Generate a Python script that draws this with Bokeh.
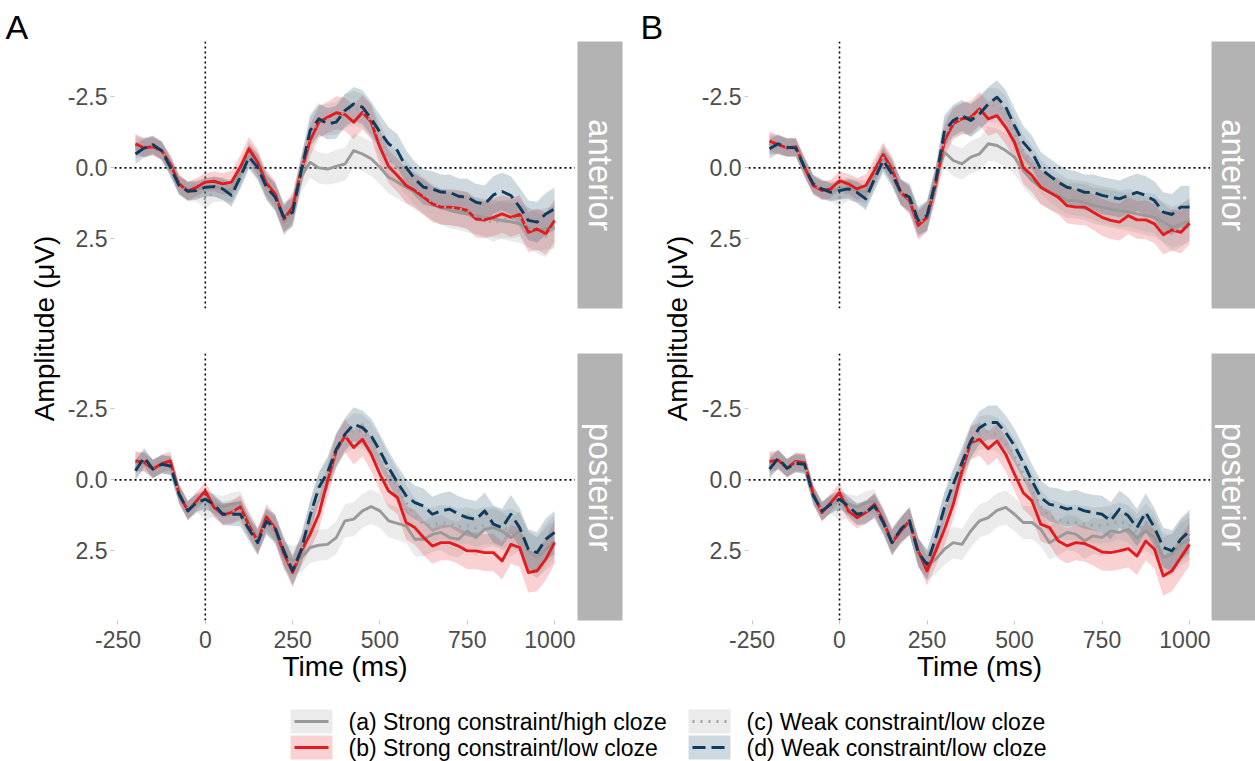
import math
from bokeh.plotting import figure
from bokeh.layouts import row, column
from bokeh.models import Range1d, Span, FixedTicker, PrintfTickFormatter
from bokeh.core.properties import value
from bokeh.embed import file_html
from bokeh.resources import INLINE

FONT = "Liberation Sans"

# ---------------- data ----------------
time_ms = list(range(-200, 1001, 25))

condition_labels = [
    "(a) Strong constraint/high cloze",
    "(b) Strong constraint/low cloze",
    "(c) Weak constraint/low cloze",
    "(d) Weak constraint/low cloze",
]
line_colors = ["#999999", "#E41A1C", "#A3A3A3", "#0C3B5E"]
ribbon_colors = ["#999999", "#E41A1C", "#999999", "#0C3B5E"]
line_dashes = ["solid", "solid", "2 6", "13 6"]

# Panel A, anterior
A_ant_a = [-0.80,-0.72,-0.78,-0.60,-0.10,0.58,0.80,0.75,0.70,0.65,0.75,0.80,0.20,-0.50,-0.10,0.60,1.00,1.90,1.50,0.30,
           -0.20,0.00,0.04,-0.05,-0.14,-0.61,-0.49,-0.32,-0.02,0.33,0.50,0.68,0.86,1.03,1.27,1.38,1.50,1.56,1.62,1.68,
           1.74,1.80,1.85,1.90,1.97,2.10,2.21,2.15,2.09]
A_ant_b = [-0.85,-0.70,-0.75,-0.61,-0.14,0.56,0.82,0.68,0.50,0.47,0.56,0.50,-0.02,-0.67,-0.20,0.54,0.92,1.80,1.38,0.09,
           -0.96,-1.61,-1.78,-1.94,-1.88,-1.61,-1.96,-1.61,-0.73,-0.05,0.27,0.62,0.80,1.03,1.27,1.38,1.38,1.42,1.50,1.80,
           1.83,1.74,1.62,1.74,1.64,2.27,2.15,2.32,1.85]
A_ant_c = [-0.70,-0.75,-0.80,-0.62,-0.05,0.60,0.85,0.85,1.10,0.85,0.80,0.90,0.25,-0.45,-0.05,0.65,1.05,1.85,1.50,0.15,
           -1.20,-1.65,-1.70,-1.75,-2.00,-2.10,-2.00,-1.65,-1.00,-0.30,0.00,0.35,0.70,0.95,1.20,1.35,1.40,1.45,1.50,1.70,
           1.80,1.95,1.80,1.80,1.75,2.10,2.30,2.40,2.00]
A_ant_d = [-0.49,-0.70,-0.82,-0.61,-0.02,0.62,0.82,0.80,0.68,0.66,0.74,0.97,0.33,-0.38,-0.02,0.68,1.03,1.74,1.56,0.09,
           -1.31,-1.73,-1.55,-1.61,-2.02,-2.25,-2.14,-1.73,-1.26,-0.85,-0.61,-0.02,0.39,0.68,0.74,0.85,0.86,1.00,1.03,1.21,
           1.27,0.95,0.83,0.97,1.38,1.85,1.91,1.62,1.44]

# Panel A, posterior
A_post_a = [-0.60,-0.65,-0.40,-0.55,-0.55,0.45,1.05,0.85,0.70,0.85,0.95,0.85,0.80,1.50,2.10,1.50,1.80,2.68,2.85,2.73,
            2.38,2.30,2.27,2.03,1.44,1.38,1.09,0.94,1.09,1.44,1.53,1.62,2.09,2.09,1.92,1.85,2.03,2.09,1.80,2.03,
            1.74,1.68,1.80,2.03,1.80,2.50,2.73,2.44,2.15]
A_post_b = [-0.67,-0.62,-0.38,-0.57,-0.67,0.50,1.09,0.74,0.39,0.97,1.21,1.15,0.95,1.60,2.16,1.30,1.70,2.60,3.26,2.50,
            1.92,1.21,0.04,-1.02,-1.55,-1.14,-1.43,-0.91,-0.20,0.39,0.62,1.50,1.68,2.03,2.33,2.21,2.21,2.33,2.50,2.50,
            2.56,2.56,2.85,2.27,2.38,3.26,3.20,2.79,2.21]
A_post_c = [-0.40,-0.70,-0.40,-0.55,-0.50,0.50,1.05,0.80,1.10,0.95,1.15,1.10,1.05,1.65,2.15,1.45,1.75,2.55,3.15,2.45,
            1.35,0.35,-0.20,-1.00,-1.50,-1.75,-1.70,-1.40,-0.90,-0.30,0.25,0.80,1.25,1.55,1.60,1.50,1.55,1.65,1.60,1.70,
            1.60,1.60,1.75,1.70,1.85,2.55,2.75,2.30,1.95]
A_post_d = [-0.32,-0.79,-0.38,-0.55,-0.49,0.50,1.09,0.80,0.68,0.86,1.21,1.21,1.21,1.74,2.21,1.45,1.70,2.50,3.20,2.44,
            1.27,0.27,-0.26,-1.08,-1.61,-1.96,-1.84,-1.55,-1.02,-0.43,0.09,0.56,0.80,0.92,1.21,1.09,1.03,1.21,1.33,1.39,
            1.09,1.56,1.68,1.21,1.68,2.44,2.56,2.09,1.85]

# Panel B, anterior
B_ant_a = [-0.85,-0.80,-0.72,-0.72,-0.05,0.58,0.78,0.80,0.75,0.70,0.80,0.85,0.25,-0.40,0.10,0.85,1.10,1.95,1.70,0.39,
           -0.55,-0.26,-0.14,-0.38,-0.49,-0.85,-0.79,-0.61,-0.38,0.09,0.45,0.68,0.86,0.97,1.15,1.15,1.21,1.33,1.38,1.45,
           1.50,1.55,1.62,1.68,1.74,1.90,2.09,2.00,1.85]
B_ant_b = [-0.94,-0.82,-0.70,-0.75,-0.02,0.62,0.80,0.74,0.45,0.56,0.74,0.62,0.09,-0.47,0.04,0.86,1.15,2.03,1.74,0.56,
           -0.96,-1.55,-1.73,-1.78,-2.08,-1.73,-1.84,-1.43,-0.90,-0.02,0.27,0.68,0.86,1.03,1.33,1.38,1.38,1.56,1.74,1.85,
           1.91,1.68,1.83,1.83,1.97,2.35,2.18,2.27,1.95]
B_ant_c = [-0.80,-0.82,-0.72,-0.72,-0.05,0.58,0.78,0.85,1.05,0.80,0.85,1.00,0.30,-0.35,0.15,0.85,1.10,1.95,1.70,0.50,
           -1.15,-1.60,-1.75,-1.70,-2.00,-2.20,-2.20,-1.95,-1.20,-0.60,-0.20,0.30,0.60,0.80,1.00,1.05,1.10,1.20,1.30,1.35,
           1.45,1.40,1.50,1.55,1.60,1.95,2.25,2.05,1.80]
B_ant_d = [-0.67,-0.85,-0.73,-0.70,-0.02,0.56,0.74,0.86,0.80,0.74,0.86,1.09,0.39,-0.26,0.21,0.86,1.03,1.85,1.68,0.45,
           -1.31,-1.67,-1.84,-1.67,-1.90,-2.25,-2.49,-2.14,-1.49,-0.90,-0.55,0.04,0.27,0.50,0.68,0.74,0.86,0.86,0.97,1.03,
           1.09,0.97,0.86,0.97,1.15,1.56,1.64,1.38,1.38]

# Panel B, posterior
B_post_a = [-0.55,-0.72,-0.45,-0.60,-0.58,0.45,1.10,0.85,0.70,0.85,0.95,0.80,0.75,1.40,2.10,1.80,1.50,2.55,3.03,2.79,
            2.44,2.21,2.27,1.80,1.44,1.33,1.07,0.97,1.21,1.50,1.50,1.74,2.21,2.03,1.85,1.91,2.15,1.97,2.03,1.80,
            1.85,1.74,2.03,1.80,2.03,2.73,2.62,2.27,2.09]
B_post_b = [-0.65,-0.69,-0.41,-0.65,-0.61,0.50,1.15,0.80,0.45,1.09,1.33,1.15,0.86,1.44,2.21,1.80,1.44,2.50,3.20,2.50,
            1.74,0.86,-0.32,-1.31,-1.43,-1.10,-1.37,-0.90,-0.20,0.45,0.74,1.56,1.68,2.15,2.32,2.21,2.24,2.38,2.54,2.56,
            2.50,2.42,2.68,2.15,2.44,3.38,3.20,2.73,2.27]
B_post_c = [-0.45,-0.70,-0.42,-0.60,-0.55,0.52,1.10,0.85,1.10,1.00,1.20,1.10,0.95,1.50,2.15,1.75,1.45,2.55,3.00,2.10,
            1.05,0.25,-0.50,-1.25,-1.65,-1.70,-1.60,-1.30,-0.85,-0.20,0.35,0.95,1.30,1.40,1.50,1.50,1.55,1.60,1.60,1.55,
            1.45,1.55,1.85,1.50,1.85,2.60,2.65,2.15,1.90]
B_post_d = [-0.38,-0.76,-0.41,-0.58,-0.55,0.56,1.09,0.86,0.68,0.92,1.21,1.15,0.92,1.50,2.21,1.74,1.44,2.56,2.97,2.03,
            0.97,0.15,-0.61,-1.37,-1.84,-2.02,-2.02,-1.67,-1.20,-0.61,0.04,0.62,0.86,0.92,1.03,0.97,1.09,1.15,1.21,1.44,
            1.03,1.27,1.68,1.15,1.68,2.38,2.50,2.09,1.80]

# half-width of the confidence ribbons (µV)
ci_half = [0.35,0.33,0.32,0.32,0.33,0.33,0.33,0.32,0.32,0.35,0.38,0.40,0.42,0.42,0.45,0.45,0.48,0.50,0.52,0.52,
           0.55,0.55,0.55,0.58,0.58,0.60,0.60,0.60,0.60,0.58,0.58,0.60,0.60,0.62,0.62,0.62,0.63,0.63,0.65,0.65,
           0.65,0.66,0.66,0.68,0.68,0.70,0.72,0.74,0.75]

x_ticks = [-250, 0, 250, 500, 750, 1000]
y_ticks = [-2.5, 0.0, 2.5]
facet_names = ["anterior", "posterior"]

for arr in [A_ant_a, A_ant_b, A_ant_c, A_ant_d, A_post_a, A_post_b, A_post_c, A_post_d,
            B_ant_a, B_ant_b, B_ant_c, B_ant_d, B_post_a, B_post_b, B_post_c, B_post_d, ci_half]:
    assert len(arr) == len(time_ms), len(arr)

# ---------------- layout constants ----------------
FRAME_H = 267
TOP_PAD = 41
TICK_COLOR = "#4D4D4D"
STRIP_FILL = "#B3B3B3"
LINE_W = 2.9


def base_fig(width, height, **kw):
    p = figure(width=width, height=height, output_backend="svg", toolbar_location=None, **kw)
    p.outline_line_color = None
    p.border_fill_color = "white"
    p.background_fill_color = "white"
    return p


def facet_fig(series, frame_w, left_border, top_border, bottom_border, show_x):
    p = base_fig(left_border + frame_w, top_border + FRAME_H + bottom_border,
                 x_range=Range1d(-260, 1060), y_range=Range1d(4.95, -4.45),
                 min_border_left=left_border, min_border_right=0, min_border_top=top_border,
                 min_border_bottom=bottom_border,
                 x_axis_location="below" if show_x else None)
    p.grid.visible = False
    p.add_layout(Span(location=0, dimension="width", line_color="black", line_dash="2 3",
                      line_width=1.6, level="underlay"))
    p.add_layout(Span(location=0, dimension="height", line_color="black", line_dash="2 3",
                      line_width=1.6, level="underlay"))
    for i, vals in enumerate(series):
        lo = [v - h for v, h in zip(vals, ci_half)]
        hi = [v + h for v, h in zip(vals, ci_half)]
        p.varea(x=time_ms, y1=lo, y2=hi, fill_color=ribbon_colors[i], fill_alpha=0.2)
    for i, vals in enumerate(series):
        p.line(time_ms, vals, line_color=line_colors[i], line_width=LINE_W, line_dash=line_dashes[i],
               line_join="round")

    ax = p.yaxis[0]
    ax.ticker = FixedTicker(ticks=y_ticks)
    ax.formatter = PrintfTickFormatter(format="%.1f")
    ax.major_label_text_font = FONT
    ax.major_label_text_font_size = "23px"
    ax.major_label_text_color = TICK_COLOR
    ax.axis_line_color = None
    ax.major_tick_line_color = "#C8C8C8"
    ax.major_tick_out = 4
    ax.major_tick_in = 0
    ax.minor_tick_line_color = None
    ax.major_label_standoff = 3
    if show_x:
        xa = p.xaxis[0]
        xa.ticker = FixedTicker(ticks=x_ticks)
        xa.formatter = PrintfTickFormatter(format="%d")
        xa.major_label_text_font = FONT
        xa.major_label_text_font_size = "23px"
        xa.major_label_text_color = TICK_COLOR
        xa.axis_line_color = None
        xa.major_tick_line_color = "#C8C8C8"
        xa.major_tick_out = 4
        xa.major_tick_in = 0
        xa.minor_tick_line_color = None
        xa.major_label_standoff = 6
        xa.axis_label = "Time (ms)"
        xa.axis_label_text_font = FONT
        xa.axis_label_text_font_size = "28px"
        xa.axis_label_text_font_style = "normal"
        xa.axis_label_text_color = "black"
        xa.axis_label_standoff = 0
    return p


def strip_fig(label, left, frame_w, right, top_border, bottom_border):
    s = base_fig(left + frame_w + right, top_border + FRAME_H + bottom_border,
                 x_range=Range1d(0, 1), y_range=Range1d(0, 1),
                 min_border_left=left, min_border_right=right, min_border_top=top_border,
                 min_border_bottom=bottom_border, x_axis_location=None, y_axis_location=None)
    s.grid.visible = False
    s.background_fill_color = STRIP_FILL
    s.text(x=[0.5], y=[0.5], text=[label], angle=-math.pi / 2, text_align="center",
           text_baseline="middle", text_color="white", text_font=value(FONT), text_font_size="33px")
    return s


def side_fig(width, height, letter, letter_x, x_center, y_center):
    # left column: panel letter on top, shared y-axis title centred between the facets
    f = base_fig(width, height, x_range=Range1d(0, width), y_range=Range1d(0, height),
                 min_border=0, x_axis_location=None, y_axis_location=None)
    f.grid.visible = False
    f.text(x=[x_center], y=[y_center], text=["Amplitude (\u03bcV)"], angle=math.pi / 2,
           text_align="center", text_baseline="middle", text_color="black",
           text_font=value(FONT), text_font_size="28px")
    f.text(x=[letter_x], y=[height - 26], text=[letter], text_align="left", text_baseline="middle",
           text_color="black", text_font=value(FONT), text_font_size="34px")
    return f


def panel(letter, letter_x, side_w, ylab_x, left_border, frame_w, s_left, s_w, s_right, data_top, data_bot):
    top = facet_fig(data_top, frame_w, left_border, TOP_PAD, 45, False)
    bot = facet_fig(data_bot, frame_w, left_border, 0, 70, True)
    st_top = strip_fig(facet_names[0], s_left, s_w, s_right, TOP_PAD, 45)
    st_bot = strip_fig(facet_names[1], s_left, s_w, s_right, 0, 70)
    side = side_fig(side_w, 690, letter, letter_x, ylab_x, 362)
    return row(side, column(row(top, st_top), row(bot, st_bot)))


panelA = panel("A", 5, 62, 44, 52, 461, 2, 45, 10,
               [A_ant_a, A_ant_b, A_ant_c, A_ant_d], [A_post_a, A_post_b, A_post_c, A_post_d])
panelB = panel("B", 8, 64, 45, 52, 462, 1, 44, 0,
               [B_ant_a, B_ant_b, B_ant_c, B_ant_d], [B_post_a, B_post_b, B_post_c, B_post_d])

# ---------------- legend (bottom, two columns) ----------------
leg = base_fig(1255, 71, x_range=Range1d(0, 1255), y_range=Range1d(0, 71),
               min_border=0, x_axis_location=None, y_axis_location=None)
leg.grid.visible = False
key_left = [290, 290, 688, 688]
row_mid = [40, 14, 40, 14]
for i, lab in enumerate(condition_labels):
    x0 = key_left[i]
    ym = row_mid[i]
    leg.quad(left=[x0], right=[x0 + 42], bottom=[ym - 12], top=[ym + 12],
             fill_color=ribbon_colors[i], fill_alpha=0.2, line_color=None)
    leg.segment(x0=[x0 + 4], y0=[ym], x1=[x0 + 38], y1=[ym], line_color=line_colors[i],
                line_width=LINE_W, line_dash=line_dashes[i])
    leg.text(x=[x0 + 58], y=[ym], text=[lab], text_align="left", text_baseline="middle",
             text_color="black", text_font=value(FONT), text_font_size="23px")

layout = column(row(panelA, panelB), leg)

open("out.html", "w").write(file_html(layout, INLINE))
